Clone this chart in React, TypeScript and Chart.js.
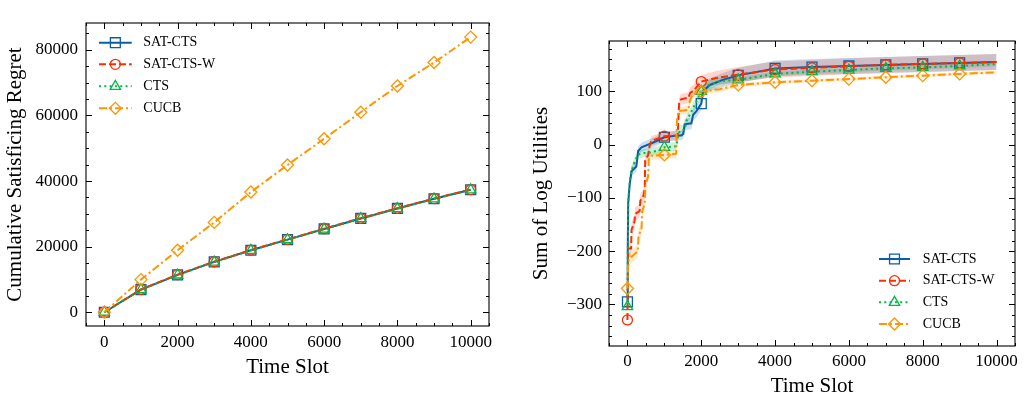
import React, { useEffect, useRef } from "react";
import { Chart, registerables } from "chart.js";

Chart.register(...registerables);

const FONT = '"Liberation Serif", "Times New Roman", Times, serif';

// Series styling shared by both panels
const seriesNames = ["SAT-CTS", "SAT-CTS-W", "CTS", "CUCB"];
const seriesColors = ["#0C5DA5", "#FF2C00", "#00B945", "#FF9500"];
const seriesBands = [
  "rgba(12,93,165,0.2)",
  "rgba(255,44,0,0.2)",
  "rgba(0,185,69,0.2)",
  "rgba(255,149,0,0.2)",
];
const seriesDash = [[], [7, 3], [2, 3.3], [8, 3, 2, 3]];
const seriesMarker = ["rect", "circle", "triangle", "rectRot"];
const seriesMarkerSize = [7, 5, 6, 6];

// Left panel: cumulative satisficing regret
const regretSlots = [0, 1000, 2000, 3000, 4000, 5000, 6000, 7000, 8000, 9000, 10000];
const regretSatCts = [0, 6900, 11400, 15350, 18900, 22150, 25400, 28600, 31650, 34600, 37350];
const regretSatCtsW = [0, 6950, 11450, 15400, 18950, 22200, 25450, 28650, 31700, 34650, 37400];
const regretCts = [0, 6850, 11350, 15300, 18850, 22100, 25350, 28550, 31600, 34550, 37300];
const regretCucb = [0, 9950, 18900, 27400, 36650, 44900, 52900, 61000, 69000, 76150, 83900];

const regretXTicks = [0, 2000, 4000, 6000, 8000, 10000];
const regretYTicks = [0, 20000, 40000, 60000, 80000];

// Right panel: sum of log utilities (mean and spread over runs)
const utilSatCtsSlots = [0, 8, 20, 60, 110, 240, 290, 380, 700, 1000, 1330, 1460, 1510, 1550, 1730, 1780, 1870, 2000, 2050, 2230, 2600, 3000, 4000, 5000, 6000, 7000, 8000, 9000, 9999];
const utilSatCts = [-295, -200, -110, -75, -50, -41, -12, -5, 4, 13.8, 17, 17, 20, 38, 40, 56, 63, 77, 100, 112, 122, 130, 143, 145.5, 147.7, 149.6, 151.5, 153.4, 155];
const utilSatCtsStd = [20, 20, 15, 12, 10, 10, 9, 9, 9, 9, 9, 9, 10, 11, 11, 12, 12, 12, 12, 12, 13, 14, 15, 15, 15, 15, 15, 15, 15];

const utilSatCtsWSlots = [0, 10, 17, 100, 110, 190, 210, 330, 350, 440, 470, 480, 560, 600, 650, 1000, 1360, 1400, 1450, 1650, 1700, 1800, 2000, 2400, 3000, 4000, 5000, 6000, 7000, 8000, 9000, 9999];
const utilSatCtsW = [-329, -260, -195, -195, -160, -145, -130, -125, -105, -95, -80, -30, -20, -2, 7, 15.7, 17, 78, 85, 88, 97, 102, 118.3, 125, 131.5, 140.8, 144, 147, 149.6, 151.5, 153.4, 155];
const utilSatCtsWStd = [25, 22, 18, 14, 14, 13, 13, 12, 12, 12, 12, 10, 10, 9, 9, 9, 9, 10, 10, 10, 10, 11, 12, 13, 14, 15, 15, 15, 15, 15, 15, 15];

const utilCtsSlots = [0, 10, 20, 60, 110, 200, 290, 420, 600, 880, 1000, 1330, 1370, 1420, 1550, 1600, 1690, 1780, 1870, 2000, 2200, 2500, 3000, 4000, 5000, 6000, 7000, 8000, 9000, 9999];
const utilCts = [-304, -200, -110, -68, -50, -31, -19, -16, -15, -10, -5, -3, 17, 26, 28, 45, 56, 69, 81, 100, 112, 119, 121.5, 132.7, 137, 140, 143, 145, 147.7, 151];
const utilCtsStd = [15, 14, 12, 10, 10, 9, 8, 8, 8, 8, 8, 8, 9, 10, 10, 10, 10, 10, 10, 10, 9, 7, 5, 4, 4, 4, 4, 4, 4, 4];

const utilCucbSlots = [0, 15, 40, 120, 280, 300, 380, 400, 470, 490, 560, 580, 650, 1000, 1320, 1340, 1380, 1650, 1690, 1770, 2000, 2150, 2500, 3000, 4000, 5000, 6000, 7000, 8000, 9000, 9999];
const utilCucb = [-270, -230, -215, -210, -200, -170, -160, -125, -110, -75, -60, -25, -21, -19.4, -17, 45, 63, 65, 82, 95, 99.5, 101, 104, 112, 117, 120, 123, 126.5, 129.5, 132.7, 135.8];
const utilCucbStd = [15, 14, 12, 12, 12, 12, 12, 12, 11, 11, 10, 9, 8, 8, 8, 8, 8, 8, 8, 8, 7, 6, 5, 4, 3, 3, 3, 3, 3, 3, 3];

const utilXTicks = [0, 2000, 4000, 6000, 8000, 10000];
const utilYTicks = [-300, -200, -100, 0, 100];

const zip = (xs: number[], ys: number[]) => xs.map((x, i) => ({ x, y: ys[i] }));

const fmtTick = (v: number) => (v < 0 ? "\u2212" + Math.abs(v) : String(v));

function markerPath(ctx: CanvasRenderingContext2D, style: string, x: number, y: number, r: number) {
  ctx.beginPath();
  if (style === "rect") {
    const s = Math.SQRT1_2 * r;
    ctx.rect(x - s, y - s, 2 * s, 2 * s);
  } else if (style === "rectRot") {
    ctx.moveTo(x - r, y);
    ctx.lineTo(x, y - r);
    ctx.lineTo(x + r, y);
    ctx.lineTo(x, y + r);
    ctx.closePath();
  } else if (style === "triangle") {
    let a = 0;
    ctx.moveTo(x + Math.sin(a) * r, y - Math.cos(a) * r);
    a += (2 * Math.PI) / 3;
    ctx.lineTo(x + Math.sin(a) * r, y - Math.cos(a) * r);
    a += (2 * Math.PI) / 3;
    ctx.lineTo(x + Math.sin(a) * r, y - Math.cos(a) * r);
    ctx.closePath();
  } else {
    ctx.arc(x, y, r, 0, Math.PI * 2);
    ctx.closePath();
  }
}

// Axes frame with inward major and minor ticks on all four sides
const frameTicks = {
  id: "frameTicks",
  afterDatasetsDraw(chart: any, _args: any, opts: any) {
    const { ctx, chartArea: a, scales } = chart;
    const xs = scales.x;
    const ys = scales.y;
    ctx.save();
    ctx.strokeStyle = "#000";
    ctx.lineWidth = 1;
    ctx.beginPath();
    const drawX = (v: number, len: number) => {
      const p = Math.round(xs.getPixelForValue(v)) + 0.5;
      ctx.moveTo(p, a.bottom);
      ctx.lineTo(p, a.bottom - len);
      ctx.moveTo(p, a.top);
      ctx.lineTo(p, a.top + len);
    };
    const drawY = (v: number, len: number) => {
      const p = Math.round(ys.getPixelForValue(v)) + 0.5;
      ctx.moveTo(a.left, p);
      ctx.lineTo(a.left + len, p);
      ctx.moveTo(a.right, p);
      ctx.lineTo(a.right - len, p);
    };
    opts.xMajor.forEach((v: number) => drawX(v, opts.majorLen));
    opts.yMajor.forEach((v: number) => drawY(v, opts.majorLen));
    for (let v = Math.ceil(xs.min / opts.xMinor) * opts.xMinor; v <= xs.max; v += opts.xMinor) {
      if (!opts.xMajor.includes(v)) drawX(v, opts.minorLen);
    }
    for (let v = Math.ceil(ys.min / opts.yMinor) * opts.yMinor; v <= ys.max; v += opts.yMinor) {
      if (!opts.yMajor.includes(v)) drawY(v, opts.minorLen);
    }
    ctx.stroke();
    ctx.lineWidth = 1.1;
    ctx.strokeRect(a.left, a.top, a.right - a.left, a.bottom - a.top);
    ctx.restore();
  },
};

// Legend with line + marker handles
const lineLegend = {
  id: "lineLegend",
  afterDraw(chart: any, _args: any, opts: any) {
    const ctx = chart.ctx;
    seriesNames.forEach((name, i) => {
      const y = opts.rows[i];
      ctx.save();
      ctx.strokeStyle = seriesColors[i];
      ctx.lineWidth = 2;
      ctx.setLineDash(seriesDash[i]);
      ctx.beginPath();
      ctx.moveTo(opts.x1, y);
      ctx.lineTo(opts.x2, y);
      ctx.stroke();
      ctx.setLineDash([]);
      ctx.lineWidth = 1.3;
      markerPath(ctx, seriesMarker[i], (opts.x1 + opts.x2) / 2, y, seriesMarkerSize[i]);
      ctx.stroke();
      ctx.fillStyle = "#000";
      ctx.font = `14px ${FONT}`;
      ctx.textBaseline = "middle";
      ctx.textAlign = "left";
      ctx.fillText(name, opts.textX, y);
      ctx.restore();
    });
  },
};

function lineDataset(i: number, data: { x: number; y: number }[], order: number) {
  return {
    label: seriesNames[i],
    data,
    borderColor: seriesColors[i],
    backgroundColor: "transparent",
    borderWidth: 2,
    borderDash: seriesDash[i],
    fill: false,
    tension: 0,
    pointStyle: seriesMarker[i],
    pointRadius: (c: any) => (c.raw && c.raw.x % 1000 === 0 ? seriesMarkerSize[i] : 0),
    pointHoverRadius: 0,
    pointBorderWidth: 1.3,
    pointBorderColor: seriesColors[i],
    pointBackgroundColor: "transparent",
    order,
  };
}

function bandDatasets(i: number, xs: number[], ys: number[], sd: number[]) {
  const upper = xs.map((x, k) => ({ x, y: ys[k] + sd[k] }));
  const lower = xs.map((x, k) => ({ x, y: ys[k] - sd[k] }));
  return [
    {
      label: seriesNames[i] + " upper",
      data: upper,
      borderWidth: 0,
      pointRadius: 0,
      pointHoverRadius: 0,
      backgroundColor: seriesBands[i],
      borderColor: "transparent",
      fill: "+1",
      order: 10,
    },
    {
      label: seriesNames[i] + " lower",
      data: lower,
      borderWidth: 0,
      pointRadius: 0,
      pointHoverRadius: 0,
      borderColor: "transparent",
      backgroundColor: "transparent",
      fill: false,
      order: 10,
    },
  ];
}

function axis(opts: {
  min: number;
  max: number;
  ticks: number[];
  title: string;
  fit: number;
  horizontal: boolean;
  labelPad: number;
  titlePad: any;
}) {
  return {
    type: "linear",
    min: opts.min,
    max: opts.max,
    grid: { display: false, drawTicks: false },
    border: { display: false },
    afterBuildTicks: (s: any) => {
      s.ticks = opts.ticks.map((v) => ({ value: v }));
    },
    afterFit: (s: any) => {
      if (opts.horizontal) s.height = opts.fit;
      else s.width = opts.fit;
    },
    ticks: {
      autoSkip: false,
      maxRotation: 0,
      padding: opts.labelPad,
      color: "#000",
      font: { family: FONT, size: 17 },
      callback: (v: any) => fmtTick(Number(v)),
    },
    title: {
      display: true,
      text: opts.title,
      color: "#000",
      font: { family: FONT, size: 21 },
      padding: opts.titlePad,
    },
  };
}

function regretConfig(): any {
  const series = [regretSatCts, regretSatCtsW, regretCts, regretCucb];
  return {
    type: "line",
    data: {
      datasets: series.map((ys, i) => lineDataset(i, zip(regretSlots, ys), 3 - i)),
    },
    plugins: [frameTicks, lineLegend],
    options: {
      responsive: false,
      maintainAspectRatio: false,
      animation: false,
      events: [],
      layout: { padding: { left: 0, right: 23, top: 23, bottom: 0 } },
      scales: {
        x: axis({ min: -500, max: 10500, ticks: regretXTicks, title: "Time Slot", fit: 75, horizontal: true, labelPad: 6, titlePad: { top: 0, bottom: 21 } }),
        y: axis({ min: -4200, max: 88200, ticks: regretYTicks, title: "Cumulative Satisficing Regret", fit: 86, horizontal: false, labelPad: 8, titlePad: { top: 2.4, bottom: 0 } }),
      },
      plugins: {
        legend: { display: false },
        tooltip: { enabled: false },
        frameTicks: { xMajor: regretXTicks, yMajor: regretYTicks, xMinor: 500, yMinor: 5000, majorLen: 6, minorLen: 3 },
        lineLegend: { x1: 99, x2: 131.7, textX: 143.3, rows: [42.7, 64.3, 86.3, 108.3] },
      },
    },
  };
}

function utilityConfig(): any {
  const slots = [utilSatCtsSlots, utilSatCtsWSlots, utilCtsSlots, utilCucbSlots];
  const means = [utilSatCts, utilSatCtsW, utilCts, utilCucb];
  const spreads = [utilSatCtsStd, utilSatCtsWStd, utilCtsStd, utilCucbStd];
  const bands = slots.flatMap((xs, i) => bandDatasets(i, xs, means[i], spreads[i]));
  const lines = slots.map((xs, i) => lineDataset(i, zip(xs, means[i]), 3 - i));
  return {
    type: "line",
    data: { datasets: [...bands, ...lines] },
    plugins: [frameTicks, lineLegend],
    options: {
      responsive: false,
      maintainAspectRatio: false,
      animation: false,
      events: [],
      layout: { padding: { left: 0, right: 10, top: 41, bottom: 0 } },
      scales: {
        x: axis({ min: -500, max: 10500, ticks: utilXTicks, title: "Time Slot", fit: 55, horizontal: true, labelPad: 5, titlePad: { top: 0, bottom: 2.4 } }),
        y: axis({ min: -378, max: 194.5, ticks: utilYTicks, title: "Sum of Log Utilities", fit: 97, horizontal: false, labelPad: 7, titlePad: { top: 16.4, bottom: 0 } }),
      },
      plugins: {
        legend: { display: false },
        tooltip: { enabled: false },
        filler: { propagate: false },
        frameTicks: { xMajor: utilXTicks, yMajor: utilYTicks, xMinor: 500, yMinor: 20, majorLen: 6, minorLen: 3 },
        lineLegend: { x1: 367, x2: 398, textX: 410.7, rows: [259, 280.7, 302.3, 324] },
      },
    },
  };
}

function Panel({ make, left, width }: { make: () => any; left: number; width: number }) {
  const ref = useRef<HTMLCanvasElement>(null);
  useEffect(() => {
    const chart = new Chart(ref.current as HTMLCanvasElement, make());
    return () => chart.destroy();
  }, [make]);
  return (
    <canvas
      ref={ref}
      width={width}
      height={401}
      style={{ position: "absolute", left, top: 0, width, height: 401 }}
    />
  );
}

export default function App() {
  return (
    <div
      style={{
        position: "fixed",
        left: 0,
        top: 0,
        width: 1025,
        height: 401,
        background: "#fff",
        overflow: "hidden",
      }}
    >
      <Panel make={regretConfig} left={0} width={512} />
      <Panel make={utilityConfig} left={512} width={513} />
    </div>
  );
}
